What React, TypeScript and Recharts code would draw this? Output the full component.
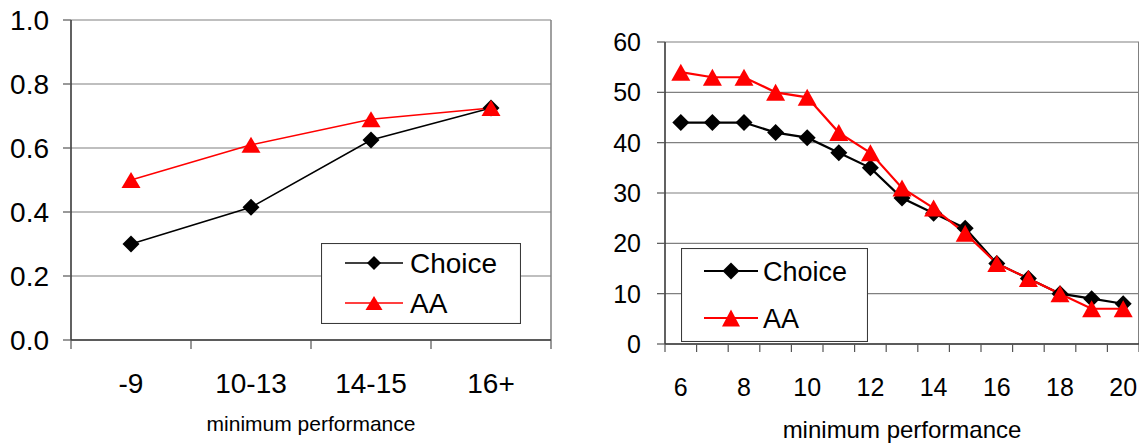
import React from 'react';
import { LineChart, Line, XAxis, YAxis, CartesianGrid, Legend, ReferenceLine } from 'recharts';

const FONT = '"Liberation Sans", Arial, Helvetica, sans-serif';
const AXIS = { stroke: '#3a3a3a', strokeWidth: 1.6 };
const TICK = { stroke: '#555', strokeWidth: 1.2 };

// left panel: grouped minimum performance
const groupLabels = ['-9', '10-13', '14-15', '16+'];
const groupChoice = [0.3, 0.415, 0.625, 0.725];
const groupAA = [0.5, 0.61, 0.69, 0.725];
const groupYTicks = [0, 0.2, 0.4, 0.6, 0.8, 1.0];

// right panel: minimum performance 6..20
const perfLabels = [6, 7, 8, 9, 10, 11, 12, 13, 14, 15, 16, 17, 18, 19, 20];
const perfChoice = [44, 44, 44, 42, 41, 38, 35, 29, 26, 23, 16, 13, 10, 9, 8];
const perfAA = [54, 53, 53, 50, 49, 42, 38, 31, 27, 22, 16, 13, 10, 7, 7];
const perfYTicks = [0, 10, 20, 30, 40, 50, 60];
const perfShownLabels = [6, 8, 10, 12, 14, 16, 18, 20];

const seriesOrder = ['choice', 'aa'];
const seriesNames = { choice: 'Choice', aa: 'AA' };

const buildRows = (labels: (string | number)[], choice: number[], aa: number[]) =>
  labels.map((label, i) => ({ pos: i + 0.5, label, choice: choice[i], aa: aa[i] }));

const groupRows = buildRows(groupLabels, groupChoice, groupAA);
const perfRows = buildRows(perfLabels, perfChoice, perfAA);

const diamondPath = (cx: number, cy: number, r: number) =>
  `M${cx},${cy - r} L${cx + r},${cy} L${cx},${cy + r} L${cx - r},${cy} Z`;
const trianglePath = (cx: number, cy: number, w: number, h: number) =>
  `M${cx},${cy - h / 2} L${cx + w / 2},${cy + h / 2} L${cx - w / 2},${cy + h / 2} Z`;

const diamondDot = (r: number) => (props: any) => {
  const { cx, cy, index } = props;
  if (cx == null || cy == null) return <g key={`dd-${index}`} />;
  return <path key={`dd-${index}`} d={diamondPath(cx, cy, r)} fill="#000" />;
};

const triangleDot = (w: number, h: number) => (props: any) => {
  const { cx, cy, index } = props;
  if (cx == null || cy == null) return <g key={`td-${index}`} />;
  return <path key={`td-${index}`} d={trianglePath(cx, cy, w, h)} fill="#ff0000" />;
};

function LegendBox(props: any) {
  const { payload, boxW, boxH, rowsY, lineX1, lineX2, textX, fontSize, lineW, dr, tw, th } = props;
  const items = (payload || [])
    .filter((p: any) => seriesOrder.includes(p.dataKey))
    .sort((a: any, b: any) => seriesOrder.indexOf(a.dataKey) - seriesOrder.indexOf(b.dataKey));
  return (
    <svg width={boxW} height={boxH} style={{ display: 'block' }}>
      <rect x={0.5} y={0.5} width={boxW - 1} height={boxH - 1} fill="#fff" stroke="#3a3a3a" strokeWidth={1.1} />
      {items.map((p: any, i: number) => {
        const y = rowsY[i];
        const mx = (lineX1 + lineX2) / 2;
        const isChoice = p.dataKey === 'choice';
        return (
          <g key={p.dataKey}>
            <line x1={lineX1} x2={lineX2} y1={y} y2={y} stroke={p.color} strokeWidth={lineW} />
            {isChoice ? (
              <path d={diamondPath(mx, y, dr)} fill="#000" />
            ) : (
              <path d={trianglePath(mx, y, tw, th)} fill="#ff0000" />
            )}
            <text x={textX} y={y} dy="0.36em" fontSize={fontSize} fontFamily={FONT} fill="#000">
              {p.value}
            </text>
          </g>
        );
      })}
    </svg>
  );
}

const blankTick = () => '';

function GroupChart() {
  const n = groupLabels.length;
  const bounds = Array.from({ length: n + 1 }, (_, i) => i);
  return (
    <LineChart width={560} height={445} data={groupRows} margin={{ top: 20, right: 9, bottom: 0, left: 0 }}>
      <CartesianGrid xAxisId="a_marks" vertical={false} stroke="#808080" strokeWidth={1.2} />
      <ReferenceLine xAxisId="a_marks" x={n} stroke="#808080" strokeWidth={1.5} />
      <XAxis
        xAxisId="a_marks"
        type="number"
        dataKey="pos"
        domain={[0, n]}
        allowDataOverflow
        ticks={bounds}
        interval={0}
        tickFormatter={blankTick}
        tickSize={9}
        height={12}
        axisLine={AXIS}
        tickLine={TICK}
      />
      <XAxis
        xAxisId="b_labels"
        type="number"
        dataKey="pos"
        domain={[0, n]}
        allowDataOverflow
        ticks={groupRows.map((r) => r.pos)}
        interval={0}
        tickFormatter={(v: number) => String(groupLabels[Math.floor(v)])}
        axisLine={false}
        tickLine={false}
        tickSize={0}
        tickMargin={21}
        height={93}
        tick={{ fontSize: 28, fill: '#000', fontFamily: FONT }}
        label={{ value: 'minimum performance', position: 'insideBottom', offset: 14, fontSize: 21, fill: '#000', fontFamily: FONT }}
      />
      <YAxis
        type="number"
        domain={[0, 1]}
        ticks={groupYTicks}
        interval={0}
        width={71}
        tickFormatter={(v: number) => v.toFixed(1)}
        tickSize={8}
        tickMargin={14}
        axisLine={AXIS}
        tickLine={TICK}
        tick={{ fontSize: 28, fill: '#000', fontFamily: FONT }}
      />
      <Legend
        layout="horizontal"
        verticalAlign="middle"
        align="center"
        wrapperStyle={{ left: 321, top: 243, width: 200, height: 81 }}
        content={(p: any) => (
          <LegendBox
            payload={p.payload}
            boxW={200}
            boxH={81}
            rowsY={[20, 60]}
            lineX1={24}
            lineX2={82}
            textX={89}
            fontSize={28}
            lineW={1.4}
            dr={7}
            tw={17}
            th={14}
          />
        )}
      />
      <Line
        xAxisId="a_marks"
        dataKey="choice"
        name={seriesNames.choice}
        stroke="#000"
        strokeWidth={1.5}
        dot={diamondDot(8.5)}
        activeDot={false}
        isAnimationActive={false}
      />
      <Line
        xAxisId="a_marks"
        dataKey="aa"
        name={seriesNames.aa}
        stroke="#ff0000"
        strokeWidth={1.5}
        dot={triangleDot(19, 16)}
        activeDot={false}
        isAnimationActive={false}
      />
    </LineChart>
  );
}

function PerfChart() {
  const n = perfLabels.length;
  const bounds = Array.from({ length: n + 1 }, (_, i) => i);
  const labelTicks = perfRows.filter((r) => perfShownLabels.includes(r.label as number)).map((r) => r.pos);
  return (
    <LineChart width={569} height={445} data={perfRows} margin={{ top: 42, right: 0, bottom: 0, left: 0 }}>
      <CartesianGrid xAxisId="a_marks" vertical={false} stroke="#808080" strokeWidth={1.2} />
      <ReferenceLine xAxisId="a_marks" x={n} stroke="#808080" strokeWidth={2} />
      <XAxis
        xAxisId="a_marks"
        type="number"
        dataKey="pos"
        domain={[0, n]}
        allowDataOverflow
        ticks={bounds}
        interval={0}
        tickFormatter={blankTick}
        tickSize={8}
        height={12}
        axisLine={AXIS}
        tickLine={TICK}
      />
      <XAxis
        xAxisId="b_labels"
        type="number"
        dataKey="pos"
        domain={[0, n]}
        allowDataOverflow
        ticks={labelTicks}
        interval={0}
        tickFormatter={(v: number) => String(perfLabels[Math.floor(v)])}
        axisLine={false}
        tickLine={false}
        tickSize={0}
        tickMargin={22}
        height={89}
        tick={{ fontSize: 25, fill: '#000', fontFamily: FONT }}
        label={{ value: 'minimum performance', position: 'insideBottom', offset: 7, fontSize: 24, fill: '#000', fontFamily: FONT }}
      />
      <YAxis
        type="number"
        domain={[0, 60]}
        ticks={perfYTicks}
        interval={0}
        width={95}
        tickSize={8}
        tickMargin={16}
        axisLine={AXIS}
        tickLine={TICK}
        tick={{ fontSize: 25, fill: '#000', fontFamily: FONT }}
      />
      <Legend
        layout="horizontal"
        verticalAlign="middle"
        align="center"
        wrapperStyle={{ left: 111, top: 248, width: 187, height: 94 }}
        content={(p: any) => (
          <LegendBox
            payload={p.payload}
            boxW={187}
            boxH={94}
            rowsY={[23, 70]}
            lineX1={23}
            lineX2={77}
            textX={82}
            fontSize={27}
            lineW={2.2}
            dr={8.5}
            tw={18}
            th={17}
          />
        )}
      />
      <Line
        xAxisId="a_marks"
        dataKey="choice"
        name={seriesNames.choice}
        stroke="#000"
        strokeWidth={2.2}
        dot={diamondDot(8.5)}
        activeDot={false}
        isAnimationActive={false}
      />
      <Line
        xAxisId="a_marks"
        dataKey="aa"
        name={seriesNames.aa}
        stroke="#ff0000"
        strokeWidth={2.2}
        dot={triangleDot(19, 17)}
        activeDot={false}
        isAnimationActive={false}
      />
    </LineChart>
  );
}

export default function App() {
  return (
    <div style={{ position: 'absolute', left: 0, top: 0, width: 1139, height: 445, background: '#fff', overflow: 'hidden' }}>
      <div style={{ position: 'absolute', left: 0, top: 0 }}>
        <GroupChart />
      </div>
      <div style={{ position: 'absolute', left: 570, top: 0 }}>
        <PerfChart />
      </div>
    </div>
  );
}
